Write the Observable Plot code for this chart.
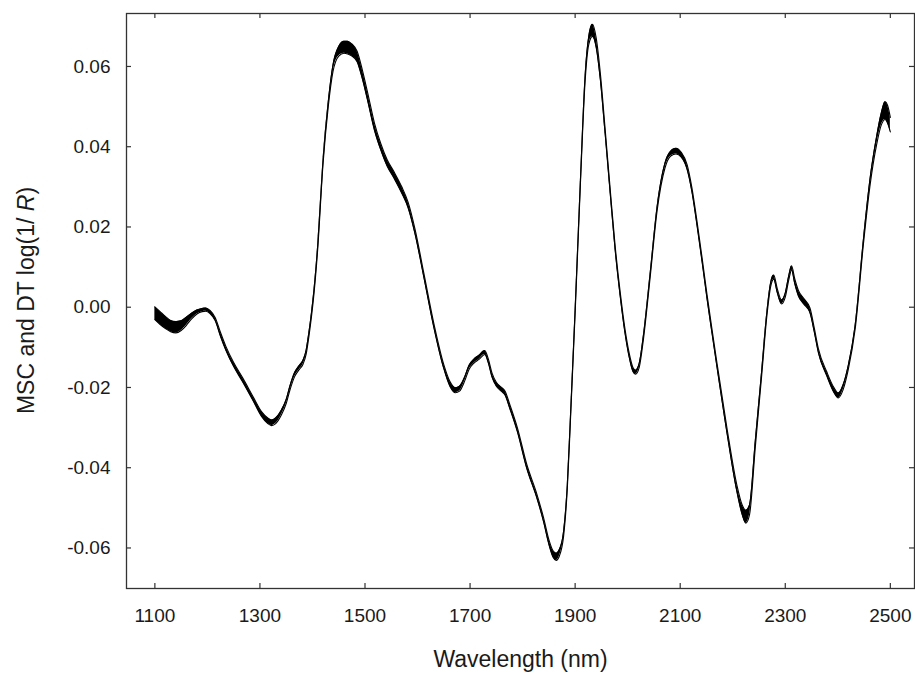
<!DOCTYPE html>
<html><head><meta charset="utf-8">
<script src="https://cdn.jsdelivr.net/npm/d3@7"></script>
<script src="https://cdn.jsdelivr.net/npm/@observablehq/plot@0.6"></script>
<style>body{margin:0;background:#fff;} svg text{white-space:pre;}</style>
</head><body><div id="chart"></div>
<script>
const wavelength = [1100,1110,1120,1130,1140,1150,1160,1170,1180,1190,1197,1205,1215,1225,1235,1250,1268,1287,1303,1315,1322,1330,1341,1350,1357,1366,1375,1382,1388,1393,1398,1403,1410,1420,1430,1439,1450,1460,1467,1475,1485,1495,1505,1518,1530,1542,1555,1570,1582,1595,1612,1631,1650,1662,1672,1680,1690,1698,1707,1717,1728,1735,1742,1750,1760,1767,1775,1790,1808,1827,1840,1850,1858,1864,1870,1878,1885,1891,1900,1910,1919,1926,1933,1940,1948,1957,1967,1976,1986,1995,2003,2010,2015,2022,2030,2043,2056,2071,2082,2092,2102,2113,2122,2132,2142,2151,2160,2170,2189,2208,2218,2225,2232,2243,2255,2265,2272,2278,2285,2293,2300,2307,2312,2318,2325,2335,2347,2355,2363,2379,2392,2401,2410,2420,2433,2449,2461,2474,2483,2490,2495,2500];
const meanSpectrum = [-0.0015,-0.0027,-0.0038,-0.0047,-0.0050,-0.0046,-0.0035,-0.0022,-0.0012,-0.0007,-0.0006,-0.0012,-0.0030,-0.0068,-0.0102,-0.0143,-0.0183,-0.0228,-0.0266,-0.0283,-0.0288,-0.0283,-0.0262,-0.0235,-0.0202,-0.0168,-0.0150,-0.0137,-0.0112,-0.0070,-0.0020,0.0040,0.0150,0.0360,0.0505,0.0595,0.0638,0.0648,0.0647,0.0641,0.0625,0.0580,0.0525,0.0450,0.0400,0.0360,0.0330,0.0292,0.0255,0.0190,0.0080,-0.0045,-0.0148,-0.0192,-0.0207,-0.0203,-0.0178,-0.0150,-0.0135,-0.0125,-0.0113,-0.0135,-0.0170,-0.0192,-0.0205,-0.0215,-0.0245,-0.0305,-0.0397,-0.0470,-0.0530,-0.0585,-0.0615,-0.0622,-0.0612,-0.0565,-0.0450,-0.0280,-0.0010,0.0310,0.0570,0.0665,0.0690,0.0660,0.0575,0.0440,0.0285,0.0150,0.0030,-0.0060,-0.0120,-0.0155,-0.0162,-0.0145,-0.0075,0.0082,0.0245,0.0353,0.0383,0.0389,0.0380,0.0350,0.0295,0.0209,0.0115,0.0027,-0.0055,-0.0144,-0.0307,-0.0452,-0.0505,-0.0522,-0.0505,-0.0340,-0.0166,-0.0017,0.0055,0.0075,0.0040,0.0013,0.0030,0.0075,0.0098,0.0065,0.0035,0.0015,-0.0008,-0.0055,-0.0108,-0.0166,-0.0205,-0.0220,-0.0200,-0.0150,-0.0050,0.0166,0.0308,0.0416,0.0470,0.0490,0.0480,0.0455];
const bandHalfWidth = [0.0016,0.0016,0.0015,0.0014,0.0014,0.0012,0.0010,0.0007,0.0005,0.0004,0.0004,0.0004,0.0004,0.0005,0.0005,0.0005,0.0005,0.0005,0.0006,0.0007,0.0007,0.0007,0.0006,0.0005,0.0005,0.0005,0.0005,0.0005,0.0005,0.0005,0.0005,0.0005,0.0005,0.0005,0.0006,0.0008,0.0012,0.0015,0.0016,0.0015,0.0013,0.0011,0.0010,0.0009,0.0008,0.0008,0.0008,0.0008,0.0007,0.0006,0.0005,0.0005,0.0005,0.0006,0.0006,0.0006,0.0005,0.0005,0.0005,0.0005,0.0005,0.0005,0.0005,0.0005,0.0005,0.0005,0.0005,0.0005,0.0005,0.0005,0.0005,0.0006,0.0008,0.0009,0.0008,0.0006,0.0005,0.0005,0.0005,0.0005,0.0007,0.0010,0.0015,0.0012,0.0008,0.0006,0.0005,0.0005,0.0005,0.0005,0.0005,0.0005,0.0005,0.0005,0.0005,0.0005,0.0005,0.0006,0.0006,0.0007,0.0006,0.0006,0.0005,0.0005,0.0005,0.0005,0.0005,0.0005,0.0006,0.0008,0.0012,0.0016,0.0012,0.0008,0.0006,0.0005,0.0005,0.0005,0.0005,0.0005,0.0005,0.0005,0.0005,0.0006,0.0007,0.0007,0.0006,0.0005,0.0005,0.0005,0.0006,0.0006,0.0006,0.0005,0.0005,0.0006,0.0008,0.0010,0.0015,0.0022,0.0022,0.0018];
const xTicks = [1100,1300,1500,1700,1900,2100,2300,2500];
const yTicks = [-0.06,-0.04,-0.02,0,0.02,0.04,0.06];
const xLabel = "Wavelength (nm)";
const yLabelParts = ["MSC and DT log(1/ ", "R", ")"];

const rows = wavelength.map((w, i) => ({
  w, mid: meanSpectrum[i],
  lo: meanSpectrum[i] - bandHalfWidth[i],
  hi: meanSpectrum[i] + bandHalfWidth[i]
}));

const W = 915, H = 673;
const mL = 126, mR = 1, mT = 13, mB = 85;
const fw = W - mL - mR, fh = H - mT - mB;
const tk = 5;
const curve = "monotone-x";
const axisColor = "#333";

const chart = Plot.plot({
  width: W, height: H,
  marginLeft: mL, marginRight: mR, marginTop: mT, marginBottom: mB,
  style: {fontFamily: "Liberation Sans, Arial, sans-serif", color: "#1a1a1a", background: "#fff"},
  x: {domain: [1046, 2546]},
  y: {domain: [-0.0701, 0.0732]},
  marks: [
    Plot.areaY(rows, {x: "w", y1: "lo", y2: "hi", fill: "#000", curve}),
    Plot.line(rows, {x: "w", y: "lo", stroke: "#000", strokeWidth: 1.1, curve}),
    Plot.line(rows, {x: "w", y: "hi", stroke: "#000", strokeWidth: 1.1, curve}),
    Plot.tickX(xTicks, {x: d => d, insetTop: fh - tk, stroke: axisColor, strokeWidth: 1.2}),
    Plot.tickX(xTicks, {x: d => d, insetBottom: fh - tk, stroke: axisColor, strokeWidth: 1.2}),
    Plot.tickY(yTicks, {y: d => d, insetRight: fw - tk, stroke: axisColor, strokeWidth: 1.2}),
    Plot.tickY(yTicks, {y: d => d, insetLeft: fw - tk, stroke: axisColor, strokeWidth: 1.2}),
    Plot.frame({stroke: axisColor, strokeWidth: 1.3}),
    Plot.axisX(xTicks, {anchor: "bottom", tickSize: 0, tickPadding: 20, fontSize: 19, tickFormat: d => String(d), label: null}),
    Plot.axisY(yTicks, {anchor: "left", tickSize: 0, tickPadding: 16, fontSize: 19, tickFormat: d => d.toFixed(2), label: null}),
    Plot.text([xLabel], {frameAnchor: "bottom", dy: 78, lineAnchor: "bottom", fontSize: 23, text: d => d})
  ]
});

const svg = d3.select(chart);
const t = svg.append("text")
  .attr("transform", `translate(34,${mT + fh / 2}) rotate(-90)`)
  .attr("text-anchor", "middle")
  .attr("fill", "#1a1a1a")
  .style("font-size", "23px")
  .style("font-family", "Liberation Sans, Arial, sans-serif");
t.append("tspan").text(yLabelParts[0]);
t.append("tspan").attr("font-style", "italic").text(yLabelParts[1]);
t.append("tspan").text(yLabelParts[2]);

document.getElementById("chart").append(chart);
</script>
</body></html>
